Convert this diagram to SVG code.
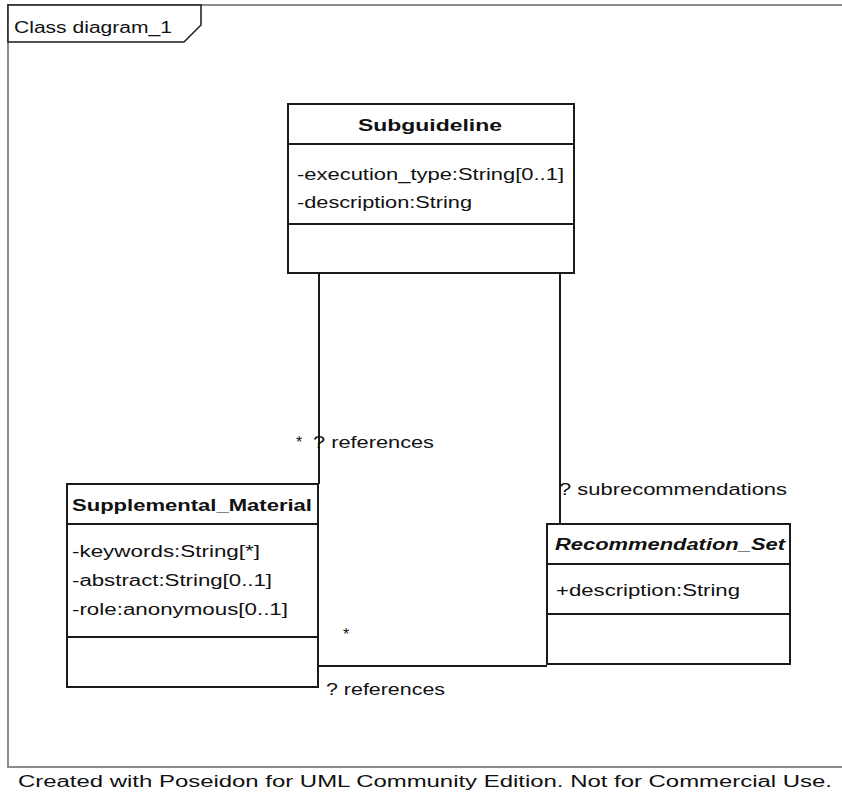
<svg xmlns="http://www.w3.org/2000/svg" width="842" height="803" viewBox="0 0 842 803">
  <style>
    .frame { fill: none; stroke: #8c8c8c; stroke-width: 2; }
    .box { fill: #ffffff; stroke: #1a1a1a; stroke-width: 2; }
    .sep { stroke: #1a1a1a; stroke-width: 2; }
    .conn { fill: none; stroke: #1a1a1a; stroke-width: 2; }
    text { font-family: "Liberation Sans", Arial, sans-serif; font-size: 16px; fill: #111; }
    .title { font-weight: bold; }
    .abstract { font-weight: bold; font-style: italic; }
    .footer { font-size: 16px; }
  </style>

  <rect width="842" height="803" fill="#ffffff"/>

  <!-- diagram frame with name tab -->
  <g id="frame">
    <path class="frame" d="M842,5 H8 V767 H842"/>
    <path d="M8,5 H201 V25 L184,42 H8 Z" fill="#ffffff" stroke="#1a1a1a" stroke-width="1.5"/>
    <text x="14" y="33" textLength="158" lengthAdjust="spacingAndGlyphs">Class diagram_1</text>
  </g>

  <!-- associations -->
  <g id="connectors">
    <path class="conn" d="M319,273 V484"/>
    <path class="conn" d="M560,273 V524"/>
    <path class="conn" d="M318,666 H547"/>
    <text x="296" y="448">*</text>
    <text x="313" y="448" textLength="121" lengthAdjust="spacingAndGlyphs">? references</text>
    <text x="559" y="495" textLength="228" lengthAdjust="spacingAndGlyphs">? subrecommendations</text>
    <text x="343" y="640">*</text>
    <text x="326" y="695" textLength="119" lengthAdjust="spacingAndGlyphs">? references</text>
  </g>

  <g id="Subguideline">
    <rect class="box" x="288" y="104" width="286" height="169"/>
    <line class="sep" x1="288" y1="144" x2="574" y2="144"/>
    <line class="sep" x1="288" y1="224" x2="574" y2="224"/>
    <text class="title" x="358" y="131" textLength="144" lengthAdjust="spacingAndGlyphs">Subguideline</text>
    <text x="297" y="180" textLength="267" lengthAdjust="spacingAndGlyphs">-execution_type:String[0..1]</text>
    <text x="297" y="208" textLength="175" lengthAdjust="spacingAndGlyphs">-description:String</text>
  </g>

  <g id="Supplemental_Material">
    <rect class="box" x="67" y="484" width="251" height="203"/>
    <line class="sep" x1="67" y1="524" x2="318" y2="524"/>
    <line class="sep" x1="67" y1="637" x2="318" y2="637"/>
    <text class="title" x="72" y="511" textLength="240" lengthAdjust="spacingAndGlyphs">Supplemental_Material</text>
    <text x="72" y="557" textLength="188" lengthAdjust="spacingAndGlyphs">-keywords:String[*]</text>
    <text x="72" y="586" textLength="200" lengthAdjust="spacingAndGlyphs">-abstract:String[0..1]</text>
    <text x="72" y="615" textLength="216" lengthAdjust="spacingAndGlyphs">-role:anonymous[0..1]</text>
  </g>

  <g id="Recommendation_Set">
    <rect class="box" x="547" y="524" width="243" height="140"/>
    <line class="sep" x1="547" y1="564" x2="790" y2="564"/>
    <line class="sep" x1="547" y1="614" x2="790" y2="614"/>
    <text class="abstract" x="555" y="550" textLength="230" lengthAdjust="spacingAndGlyphs">Recommendation_Set</text>
    <text x="556" y="596" textLength="184" lengthAdjust="spacingAndGlyphs">+description:String</text>
  </g>

  <text class="footer" x="18" y="787" textLength="814" lengthAdjust="spacingAndGlyphs">Created with Poseidon for UML Community Edition. Not for Commercial Use.</text>
</svg>
